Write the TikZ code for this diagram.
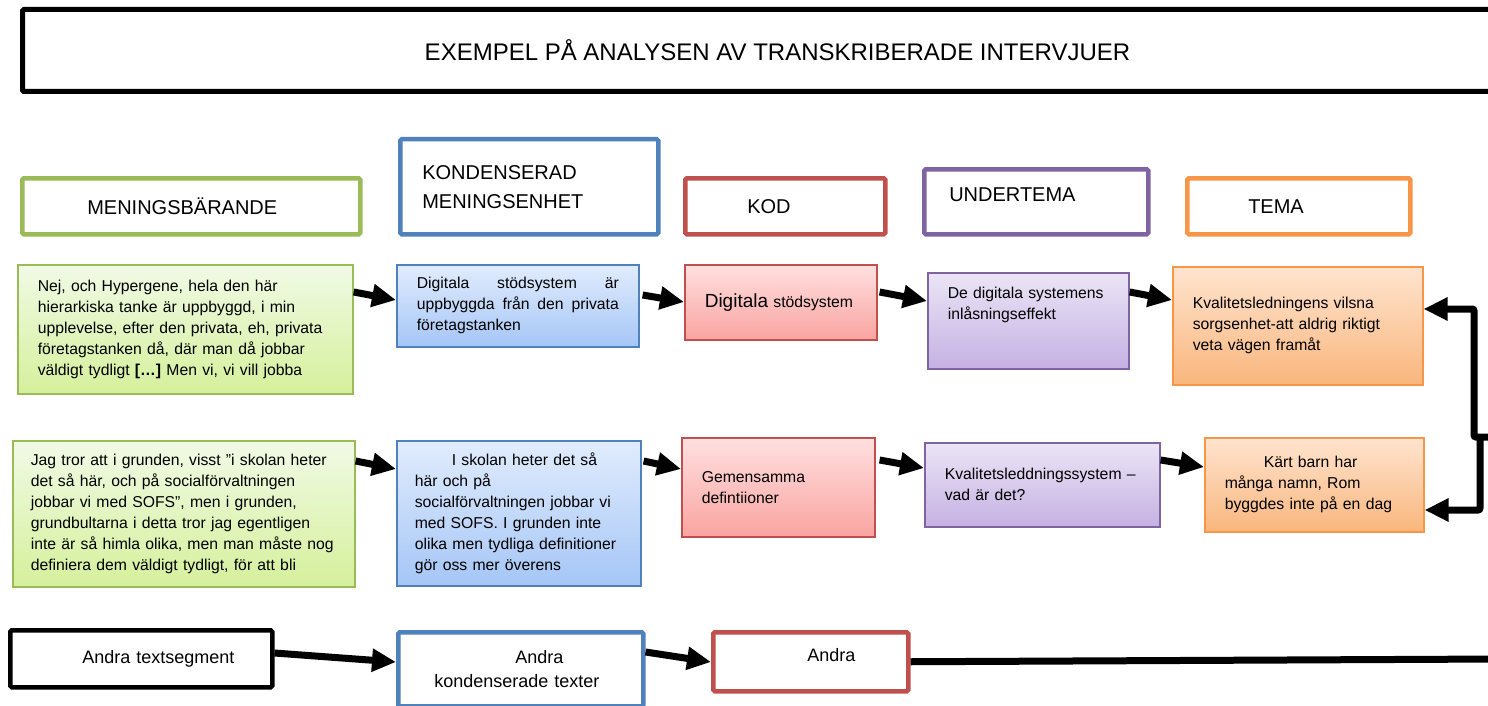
\documentclass[tikz,border=0pt]{standalone}
\usepackage{fontspec}
\setmainfont{Liberation Sans}
\setsansfont{Liberation Sans}
\usetikzlibrary{arrows.meta,calc}
\hyphenpenalty=10000
\exhyphenpenalty=10000
\definecolor{gron}{HTML}{9BBB59}
\definecolor{bla}{HTML}{4F81BD}
\definecolor{rod}{HTML}{C0504D}
\definecolor{lila}{HTML}{8064A2}
\definecolor{orange}{HTML}{F79646}
\definecolor{gronA}{HTML}{F1FAE6}
\definecolor{gronB}{HTML}{D5F09B}
\definecolor{blaA}{HTML}{E1ECFD}
\definecolor{blaB}{HTML}{A5C6F6}
\definecolor{rodA}{HTML}{FFE0E0}
\definecolor{rodB}{HTML}{F9A4A0}
\definecolor{lilaA}{HTML}{EBE5F6}
\definecolor{lilaB}{HTML}{C5B1E3}
\definecolor{orangeA}{HTML}{FFE4CF}
\definecolor{orangeB}{HTML}{F9B67D}
\tikzset{
  rubrik/.style={
    draw, line width=4.5pt, fill=white, rounded corners=1.5pt,
    anchor=north west, align=left, text=black,
    font=\fontsize{20}{29}\selectfont
  },
  ruta/.style={
    draw, line width=1.6pt, anchor=north west, align=left,
    inner xsep=20pt, text=black, font=\fontsize{15.75}{21}\selectfont
  },
  gronruta/.style={ruta, draw=gron, top color=gronA, bottom color=gronB},
  blaruta/.style={ruta, draw=bla, top color=blaA, bottom color=blaB},
  rodruta/.style={ruta, draw=rod, top color=rodA, bottom color=rodB},
  lilaruta/.style={ruta, draw=lila, top color=lilaA, bottom color=lilaB},
  orangeruta/.style={ruta, draw=orange, top color=orangeA, bottom color=orangeB},
  pil/.style={-{Triangle[length=24pt,width=22pt]}, line width=7pt, draw=black},
  linje/.style={line width=7pt, draw=black}
}
% extra luft under texten, lyfter den i rutan
\newcommand{\lyft}[1]{\par\vspace*{#1}}

\begin{document}
\begin{tikzpicture}[x=1pt,y=-1pt]
  \useasboundingbox (0,0) rectangle (1488,706);

  % ---- Titel ----
  \node[rubrik, line width=5pt, align=center, minimum width=1510pt, minimum height=82pt,
        font=\fontsize{24}{28}\selectfont] (titel) at (20,7)
     {EXEMPEL PÅ ANALYSEN AV TRANSKRIBERADE INTERVJUER};

  % ---- Kolumnrubriker ----
  \node[rubrik, draw=gron,   inner xsep=65pt, text width=208pt, minimum height=56pt] (mb0)   at (20,176)  {MENINGSBÄRANDE};
  \node[rubrik, draw=bla,    inner xsep=22pt, text width=214pt, minimum height=95pt] (kms0)  at (398,137) {KONDENSERAD\\MENINGSENHET};
  \node[rubrik, draw=rod,    inner xsep=62pt, text width=76pt,  minimum height=56pt] (kod0)  at (683,176) {KOD};
  \node[rubrik, draw=lila,   inner xsep=25pt, text width=174pt, minimum height=65pt] (ut0)   at (922,167) {UNDERTEMA\lyft{14pt}};
  \node[rubrik, draw=orange, inner xsep=61pt, text width=101pt, minimum height=56pt] (tema0) at (1185,176) {TEMA};

  % ---- Rad 1 ----
  \node[gronruta, text width=295pt, minimum height=129pt] (mb1) at (17,264)
     {Nej, och Hypergene, hela den här\\hierarkiska tanke är uppbyggd, i min\\upplevelse, efter den privata, eh, privata\\företagstanken då, där man då jobbar\\väldigt tydligt \textbf{[…]} Men vi, vi vill jobba};
  \node[blaruta, align=justify, text width=202pt, minimum height=82pt] (kms1) at (396,264)
     {Digitala stödsystem är\linebreak uppbyggda från den privata\linebreak företagstanken};
  \node[rodruta, text width=152pt, minimum height=75pt] (kod1) at (684,264)
     {{\fontsize{19}{21}\selectfont Digitala} stödsystem};
  \node[lilaruta, text width=161pt, minimum height=96pt] (ut1) at (927,272)
     {De digitala systemens\\inlåsningseffekt\lyft{32pt}};
  \node[orangeruta, text width=210pt, minimum height=118pt] (tema1) at (1172,266)
     {Kvalitetsledningens vilsna\\sorgsenhet-att aldrig riktigt\\veta vägen framåt};

  % ---- Rad 2 ----
  \node[gronruta, inner xsep=18pt, text width=306pt, minimum height=146pt] (mb2) at (12,440)
     {Jag tror att i grunden, visst ”i skolan heter\\det så här, och på socialförvaltningen\\jobbar vi med SOFS”, men i grunden,\\grundbultarna i detta tror jag egentligen\\inte är så himla olika, men man måste nog\\definiera dem väldigt tydligt, för att bli};
  \node[blaruta, inner xsep=18pt, text width=208pt, minimum height=145pt] (kms2) at (396,440)
     {\hspace*{37pt}I skolan heter det så\\här och på\\socialförvaltningen jobbar vi\\med SOFS. I grunden inte\\olika men tydliga definitioner\\gör oss mer överens};
  \node[rodruta, text width=153pt, minimum height=99pt] (kod2) at (681,437)
     {Gemensamma\\defintiioner};
  \node[lilaruta, text width=195pt, minimum height=84pt] (ut2) at (924,442)
     {Kvalitetsleddningssystem –\\vad är det?};
  \node[orangeruta, text width=179pt, minimum height=94pt] (tema2) at (1204,437)
     {\hspace*{39pt}Kärt barn har\\många namn, Rom\\byggdes inte på en dag};

  % ---- Rad 3 ----
  \node[rubrik, draw=black, inner xsep=20pt, text width=222pt, minimum height=57pt,
        font=\fontsize{18}{24}\selectfont] (mb3) at (8,628) {\hspace*{52pt}Andra textsegment};
  \node[rubrik, draw=bla, inner xsep=20pt, text width=205pt, minimum height=74pt,
        font=\fontsize{18}{24}\selectfont] (kms3) at (396,630) {\hspace*{97pt}Andra\\\hspace*{16pt}kondenserade texter};
  \node[rubrik, draw=rod, inner xsep=20pt, text width=155pt, minimum height=59pt,
        font=\fontsize{18}{24}\selectfont] (kod3) at (711,630) {\hspace*{74pt}Andra\lyft{14pt}};

  \coordinate (rand3) at (1500,659);
  \coordinate (rand)  at (1500,437);
  \coordinate (knut)  at (1474,437);

  % ---- Pilar ----
  \draw[pil] ($(mb1.north east)+(0,28)$)  -- ($(kms1.north west)+(0,36)$);
  \draw[pil] ($(kms1.north east)+(3,31)$) -- ($(kod1.north west)+(0,38)$);
  \draw[pil] ($(kod1.north east)+(2,28)$) -- ($(ut1.north west)+(0,29)$);
  \draw[pil] ($(ut1.north east)+(0,20)$)  -- ($(tema1.north west)+(0,34)$);

  \draw[pil] ($(mb2.north east)+(0,21)$)  -- ($(kms2.north west)+(0,29)$);
  \draw[pil] ($(kms2.north east)+(2,21)$) -- ($(kod2.north west)+(0,32)$);
  \draw[pil] ($(kod2.north east)+(4,23)$) -- ($(ut2.north west)+(0,26)$);
  \draw[pil] ($(ut2.north east)+(0,18)$)  -- ($(tema2.north west)+(0,30)$);

  \draw[pil] ($(mb3.north east)+(0,25)$)  -- ($(kms3.north west)+(0,32)$);
  \draw[pil] ($(kms3.north east)+(0,22)$) -- ($(kod3.north west)+(0,32)$);
  \draw[linje] (kod3.east) -- (rand3);

  \draw[pil, rounded corners=2pt] (rand) -- (knut) |- ($(tema1.north east)+(0,43)$);
  \draw[pil, rounded corners=2pt] ($(knut)+(6,0)$) |- ($(tema2.north east)+(0,73)$);
\end{tikzpicture}
\end{document}
